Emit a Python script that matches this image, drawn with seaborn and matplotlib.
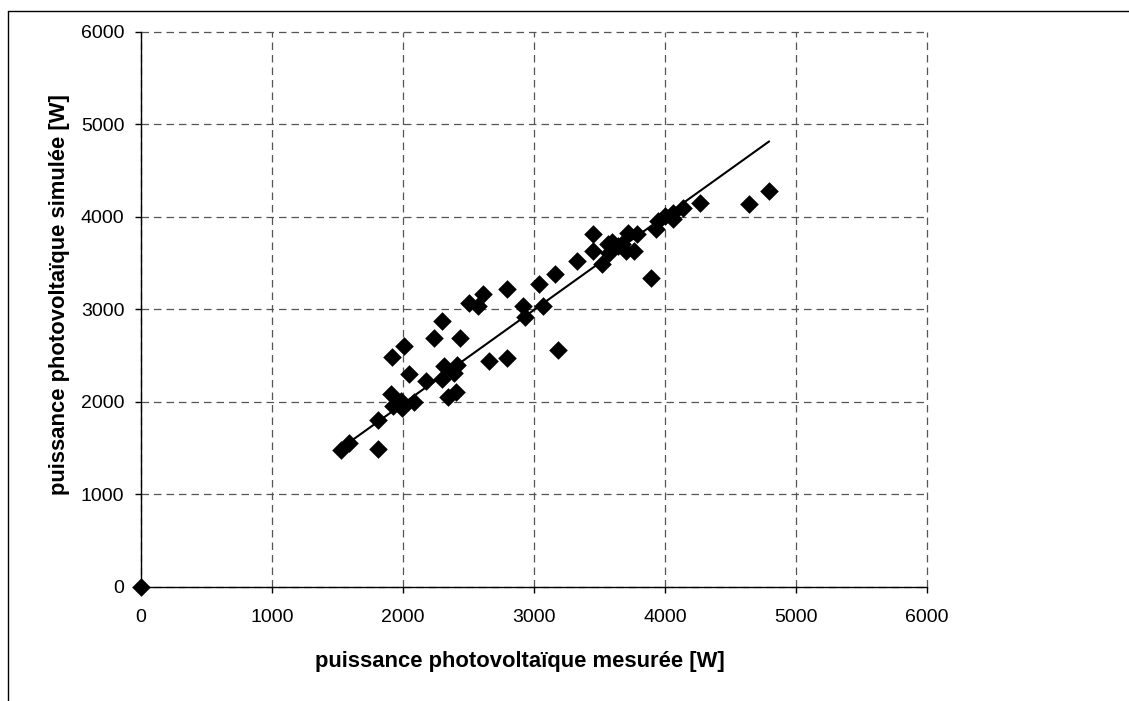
import matplotlib
matplotlib.use("Agg")
import matplotlib.pyplot as plt
from matplotlib.lines import Line2D
import seaborn as sns
import pandas as pd

# measured (x) vs simulated (y) PV power [W]
measured = [1523, 1586, 1811, 1811, 1905, 1918, 1925, 1982, 1995, 2007,
            2045, 2083, 2177, 2240, 2301, 2301, 2315, 2346, 2390, 2402,
            2412, 2436, 2505, 2576, 2607, 2653, 2793, 2793, 2913, 2930,
            3066, 3036, 3158, 3186, 3325, 3448, 3448, 3518, 3563, 3595,
            3640, 3670, 3716, 3703, 3785, 3767, 3570, 3892, 3933, 3946,
            3997, 4060, 4060, 4137, 4264, 4642, 4792]
simulated = [1480, 1553, 1488, 1800, 2080, 2484, 1950, 2003, 1935, 2599,
             2300, 1992, 2225, 2685, 2877, 2250, 2385, 2047, 2315, 2100,
             2395, 2685, 3072, 3032, 3159, 2436, 3222, 2470, 3032, 2918,
             3032, 3270, 3380, 2560, 3525, 3812, 3628, 3485, 3700, 3727,
             3682, 3710, 3827, 3628, 3808, 3628, 3610, 3335, 3870, 3953,
             4007, 3971, 4043, 4097, 4151, 4133, 4280]
origin_x = [0]
origin_y = [0]
trend_x = [1490, 4795]
trend_y = [1460, 4814]
ticks = [0, 1000, 2000, 3000, 4000, 5000, 6000]

sns.set_style("white")
plt.rcParams['font.family'] = ['Liberation Sans', 'DejaVu Sans']
plt.rcParams['text.color'] = 'black'
plt.rcParams['axes.labelcolor'] = 'black'
plt.rcParams['xtick.color'] = 'black'
plt.rcParams['ytick.color'] = 'black'

fig = plt.figure(figsize=(11.29, 7.01), dpi=100)
ax = fig.add_axes([141/1129, 1 - 586.7/701, (927 - 141)/1129, (586.7 - 31.7)/701])

df = pd.DataFrame({"x": measured, "y": simulated})
sns.lineplot(x=trend_x, y=trend_y, ax=ax, color="black", linewidth=1.5, zorder=3)
sns.scatterplot(data=df, x="x", y="y", ax=ax, marker="D", s=90, color="black",
                edgecolor="black", linewidth=0, zorder=4)
sns.scatterplot(x=origin_x, y=origin_y, ax=ax, marker="D", s=90, color="black",
                edgecolor="black", linewidth=0, zorder=5, clip_on=False)

ax.set_xlim(0, 6000)
ax.set_ylim(0, 6000)
ax.set_xticks(ticks)
ax.set_yticks(ticks)
ax.set_xticklabels([str(t) for t in ticks])
ax.set_yticklabels([str(t) for t in ticks])
ax.grid(True, color="#555555", linestyle=(0, (6, 4)), linewidth=0.9)
for gl in ax.get_xgridlines() + ax.get_ygridlines():
    gl.set_clip_on(False)
ax.set_axisbelow(True)
for s in ["top", "right"]:
    ax.spines[s].set_visible(False)
for s in ["left", "bottom"]:
    ax.spines[s].set_color("black")
    ax.spines[s].set_linewidth(1.0)
ax.tick_params(axis="both", direction="out", length=4, width=1, color="black",
               labelsize=14, bottom=True, left=True)
ax.tick_params(axis="x", pad=12)
ax.tick_params(axis="y", pad=8)
ax.set_xlabel("puissance photovoltaïque mesurée [W]", fontsize=15.8, fontweight="bold", labelpad=18)
ax.set_ylabel("puissance photovoltaïque simulée [W]", fontsize=15.8, fontweight="bold", labelpad=8)
ax.xaxis.label.set_x(0.482)
ax.yaxis.label.set_y(0.5256)

# chart-area border (left and top visible)
fig.add_artist(Line2D([8/1129, 8/1129], [0, 1 - 11/701], transform=fig.transFigure, color="black", linewidth=1))
fig.add_artist(Line2D([8/1129, 1], [1 - 11/701, 1 - 11/701], transform=fig.transFigure, color="black", linewidth=1))

fig.savefig("out.png", dpi=100)
